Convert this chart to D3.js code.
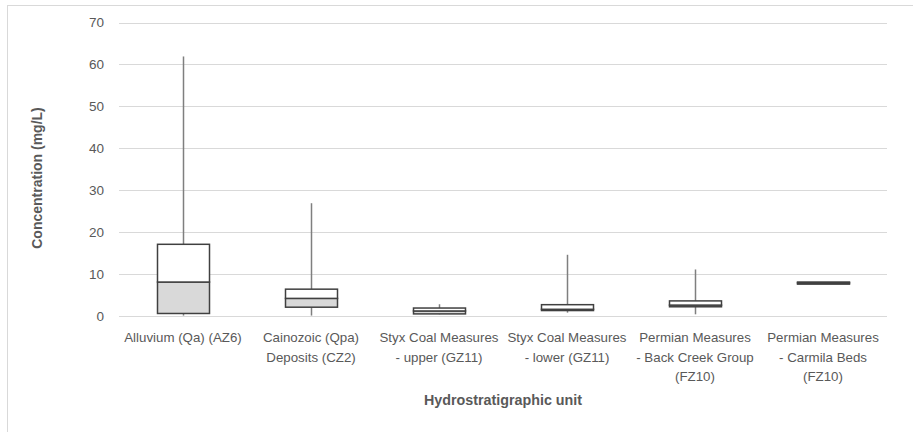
<!DOCTYPE html>
<html>
<head>
<meta charset="utf-8">
<script src="https://cdn.jsdelivr.net/npm/d3@7"></script>
<style>
  html, body { margin: 0; padding: 0; background: #fff; }
  svg { display: block; font-family: "Liberation Sans", Arial, sans-serif; }
</style>
</head>
<body>
<svg id="chart" width="913" height="432"></svg>
<script>
// ---- data ----
const categories = [
  "Alluvium (Qa) (AZ6)",
  "Cainozoic (Qpa) Deposits (CZ2)",
  "Styx Coal Measures - upper (GZ11)",
  "Styx Coal Measures - lower (GZ11)",
  "Permian Measures - Back Creek Group (FZ10)",
  "Permian Measures - Carmila Beds (FZ10)"
];
const categoryLines = [
  ["Alluvium (Qa) (AZ6)"],
  ["Cainozoic (Qpa)", "Deposits (CZ2)"],
  ["Styx Coal Measures", "- upper (GZ11)"],
  ["Styx Coal Measures", "- lower (GZ11)"],
  ["Permian Measures", "- Back Creek Group", "(FZ10)"],
  ["Permian Measures", "- Carmila Beds", "(FZ10)"]
];
const minValues    = [0.1, 0.1, 0.4, 0.8, 0.4, 7.6];
const q1Values     = [0.6, 2.1, 0.5, 1.3, 2.2, 7.6];
const medianValues = [8.1, 4.2, 1.2, 1.6, 2.6, 7.9];
const q3Values     = [17.1, 6.4, 1.9, 2.7, 3.6, 8.1];
const maxValues    = [61.9, 26.9, 2.8, 14.6, 11.1, 8.1];
const yTicks = [0, 10, 20, 30, 40, 50, 60, 70];
const yTitle = "Concentration (mg/L)";
const xTitle = "Hydrostratigraphic unit";

// ---- layout ----
const svg = d3.select("#chart");
const plotLeft = 119, plotRight = 887, plotTop = 22.5, plotBottom = 316;
const textColor = "#595959";

svg.append("rect")
  .attr("x", 7.5).attr("y", 5.5).attr("width", 930).attr("height", 450)
  .attr("fill", "#fff").attr("stroke", "#d9d9d9").attr("stroke-width", 1);

const x = d3.scaleBand().domain(categories).range([plotLeft, plotRight]).paddingInner(0).paddingOuter(0);
const y = d3.scaleLinear().domain([0, 70]).range([plotBottom, plotTop]);

// gridlines
svg.append("g").selectAll("line").data(yTicks).join("line")
  .attr("x1", plotLeft).attr("x2", plotRight)
  .attr("y1", d => Math.round(y(d)) + 0.5).attr("y2", d => Math.round(y(d)) + 0.5)
  .attr("stroke", "#d9d9d9").attr("stroke-width", 1);

// y axis labels
const yAxis = d3.axisLeft(y).tickValues(yTicks).tickSize(0).tickPadding(0);
const yg = svg.append("g").attr("transform", `translate(104,0)`).call(yAxis);
yg.select(".domain").remove();
yg.selectAll("text").attr("fill", textColor).attr("font-size", 13.5)
  .attr("font-family", "Liberation Sans, Arial, sans-serif");

// boxes
const boxW = 52;
const data = categories.map((c, i) => ({
  c, min: minValues[i], q1: q1Values[i], med: medianValues[i], q3: q3Values[i], max: maxValues[i]
}));
const g = svg.append("g");
data.forEach(d => {
  const cx = Math.round(x(d.c) + x.bandwidth() / 2) + 0.5;
  const x0 = cx - boxW / 2;
  g.append("line").attr("x1", cx).attr("x2", cx)
    .attr("y1", y(d.q3)).attr("y2", y(d.max))
    .attr("stroke", "#7f7f7f").attr("stroke-width", 1.5);
  g.append("line").attr("x1", cx).attr("x2", cx)
    .attr("y1", y(d.q1)).attr("y2", y(d.min))
    .attr("stroke", "#7f7f7f").attr("stroke-width", 1.5);
  g.append("rect").attr("x", x0).attr("width", boxW)
    .attr("y", y(d.med)).attr("height", y(d.q1) - y(d.med))
    .attr("fill", "#d9d9d9").attr("stroke", "#404040").attr("stroke-width", 1.5);
  g.append("rect").attr("x", x0).attr("width", boxW)
    .attr("y", y(d.q3)).attr("height", y(d.med) - y(d.q3))
    .attr("fill", "#ffffff").attr("stroke", "#404040").attr("stroke-width", 1.5);
});

// x axis labels
const xl = svg.append("g");
categories.forEach((c, i) => {
  const t = xl.append("text")
    .attr("x", x(c) + x.bandwidth() / 2)
    .attr("y", 342)
    .attr("text-anchor", "middle")
    .attr("fill", textColor)
    .attr("font-size", 13.3);
  categoryLines[i].forEach((line, j) => {
    t.append("tspan").attr("x", x(c) + x.bandwidth() / 2)
      .attr("dy", j === 0 ? 0 : 19.5).text(line);
  });
});

// axis titles
svg.append("text")
  .attr("x", (plotLeft + plotRight) / 2).attr("y", 405)
  .attr("text-anchor", "middle").attr("fill", textColor)
  .attr("font-size", 14.3).attr("font-weight", "bold").text(xTitle);

svg.append("text")
  .attr("transform", `translate(42,${178}) rotate(-90)`)
  .attr("text-anchor", "middle").attr("fill", textColor)
  .attr("font-size", 14).attr("font-weight", "bold").text(yTitle);
</script>
</body>
</html>
